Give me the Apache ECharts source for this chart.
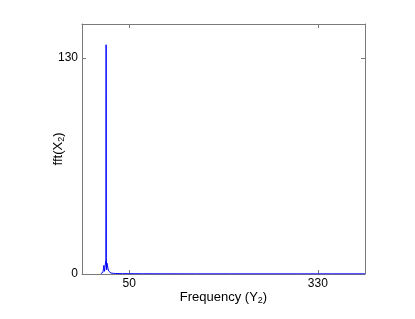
<!DOCTYPE html>
<html>
<head>
<meta charset="utf-8">
<script src="https://cdn.jsdelivr.net/npm/echarts@6/dist/echarts.min.js"></script>
<style>html,body{margin:0;padding:0;background:#fff;}#c{width:415px;height:319px;}</style>
</head>
<body>
<div id="c"></div>
<script>
var freq = [8, 9, 10, 11, 11.5, 12, 12.5, 13, 13.5, 14, 14.5, 15, 15.5, 15.8, 16.1, 16.6, 17.1, 17.6, 18, 18.5, 19, 19.5, 20, 21, 22, 23, 25, 27, 30, 35, 40, 50, 70, 100, 150, 200, 250, 300, 350, 400];
var mag  = [0.2, 0.3, 0.5, 1.0, 2.0, 3.5, 5.2, 3.0, 1.6, 1.2, 1.5, 2.5, 9, 138, 10, 2.5, 6.5, 7.6, 5.5, 3.5, 2.5, 1.8, 1.3, 0.9, 0.7, 0.55, 0.45, 0.38, 0.3, 0.25, 0.2, 0.18, 0.15, 0.12, 0.1, 0.1, 0.1, 0.1, 0.1, 0.1];
var xTicks = [50, 330];
var yTicks = [0, 130];

var data = freq.map(function (f, i) { return [f, mag[i]]; });
var axisColor = '#7a7a7a';
var chart = echarts.init(document.getElementById('c'));
chart.setOption({
  animation: false,
  grid: { left: 82, right: 50, top: 24, bottom: 45 },
  xAxis: [{
    type: 'value', min: -20, max: 400, position: 'bottom',
    name: 'Frequency (Y{sub|2})', nameLocation: 'middle', nameGap: 15, nameMoveOverlap: false,
    nameTextStyle: { color: '#000', fontSize: 13, fontFamily: 'Liberation Sans',
      rich: { sub: { fontSize: 9, fontFamily: 'Liberation Sans', color: '#000', padding: [7, 0, 0, 0] } } },
    axisLine: { show: true, onZero: false, lineStyle: { color: axisColor, width: 1 } },
    axisTick: { show: true, inside: true, length: 4, customValues: xTicks, lineStyle: { color: axisColor } },
    axisLabel: { customValues: xTicks, color: '#000', fontSize: 12, fontFamily: 'Liberation Sans', margin: 4 },
    splitLine: { show: false }
  }, {
    type: 'value', min: -20, max: 400, position: 'top',
    axisLine: { show: true, onZero: false, lineStyle: { color: axisColor, width: 1 } },
    axisTick: { show: true, inside: true, length: 4, customValues: xTicks, lineStyle: { color: axisColor } },
    axisLabel: { show: false },
    splitLine: { show: false }
  }],
  yAxis: [{
    type: 'value', min: 0, max: 150.5, position: 'left',
    name: 'fft(X{sub|2})', nameLocation: 'middle', nameGap: 16, nameRotate: 90, nameMoveOverlap: false,
    nameTextStyle: { color: '#000', fontSize: 13, fontFamily: 'Liberation Sans',
      rich: { sub: { fontSize: 9, fontFamily: 'Liberation Sans', color: '#000', padding: [7, 0, 0, 0] } } },
    axisLine: { show: true, onZero: false, lineStyle: { color: axisColor, width: 1 } },
    axisTick: { show: true, inside: true, length: 4, customValues: yTicks, lineStyle: { color: axisColor } },
    axisLabel: { customValues: yTicks, color: '#000', fontSize: 12, fontFamily: 'Liberation Sans', margin: 4 },
    splitLine: { show: false }
  }, {
    type: 'value', min: 0, max: 150.5, position: 'right',
    axisLine: { show: true, onZero: false, lineStyle: { color: axisColor, width: 1 } },
    axisTick: { show: true, inside: true, length: 4, customValues: yTicks, lineStyle: { color: axisColor } },
    axisLabel: { show: false },
    splitLine: { show: false }
  }],
  series: [{
    type: 'line', data: data, xAxisIndex: 0, yAxisIndex: 0,
    showSymbol: false, symbol: 'none',
    lineStyle: { color: '#0000ff', width: 1 },
    z: 3
  }]
});
</script>
</body>
</html>
